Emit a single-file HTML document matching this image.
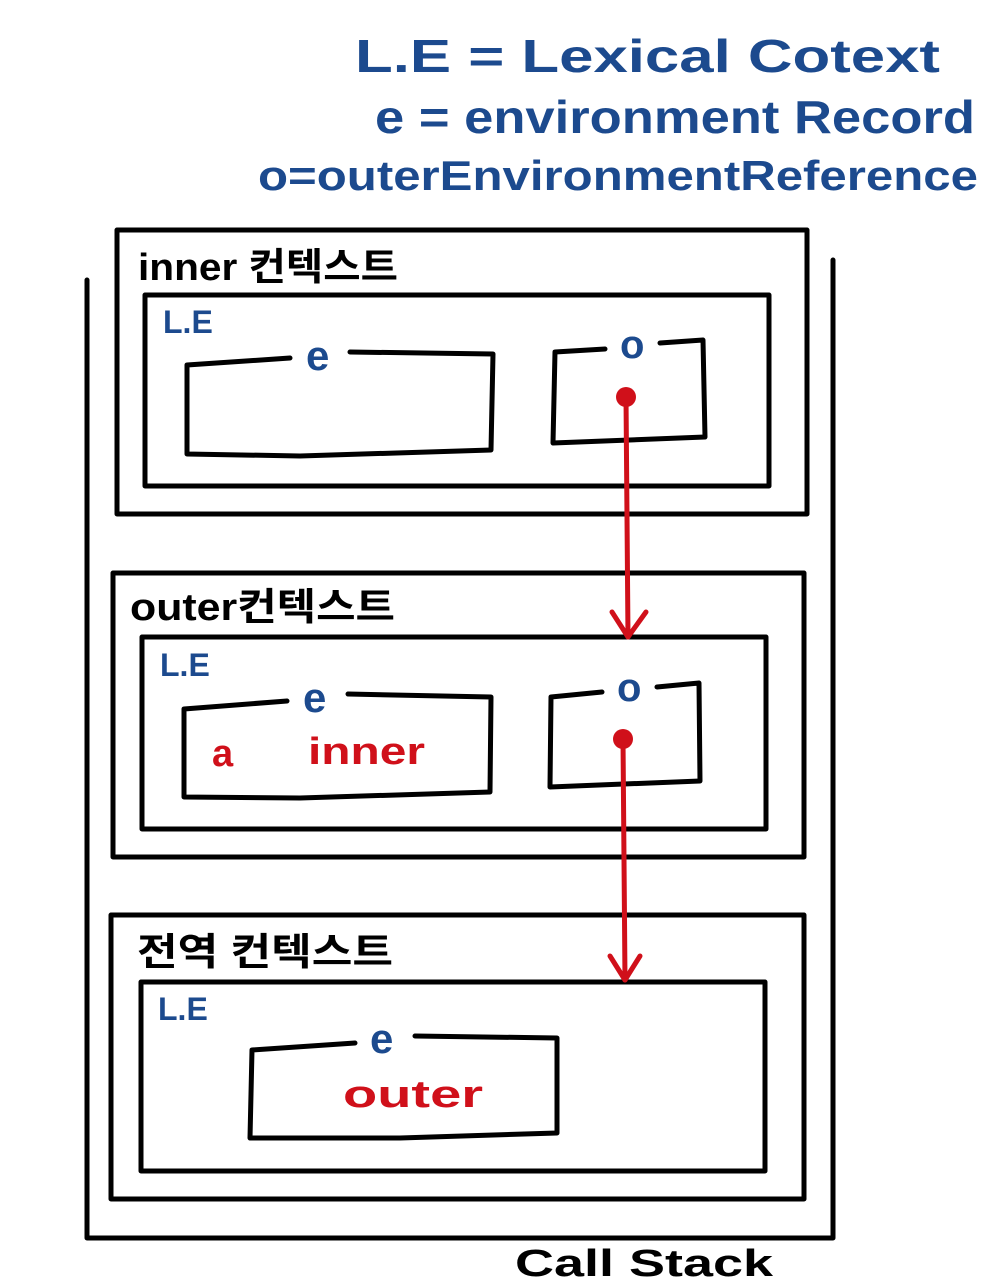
<!DOCTYPE html>
<html><head><meta charset="utf-8"><style>
html,body{margin:0;padding:0;background:#fff;}
svg{display:block;}
text{font-family:"Liberation Sans","Noto Sans CJK KR",sans-serif;font-weight:bold;}
.b{fill:#1c4a8e;}
.r{fill:#d0101a;}
.k{fill:#000;}
</style></head><body>
<svg width="1000" height="1284" viewBox="0 0 1000 1284" xmlns="http://www.w3.org/2000/svg">
<g fill="none" stroke="#000" stroke-width="5" stroke-linejoin="round" stroke-linecap="round">
<!-- call stack -->
<polyline points="87,280 87,1238 833,1238 833,260"/>
<!-- inner -->
<rect x="117" y="230" width="690" height="284"/>
<rect x="145" y="295" width="624" height="191"/>
<path d="M290,358 L187,365 L187,454 L300,456 L491,450 L493,354 L350,352"/>
<path d="M605,349 L555,352 L553,443 L705,437 L703,340 L660,343"/>
<!-- outer -->
<rect x="113" y="573" width="691" height="284"/>
<rect x="142" y="637" width="624" height="192"/>
<path d="M287,701 L184,709 L184,797 L300,798 L490,792 L491,697 L348,694"/>
<path d="M602,692 L551,697 L550,787 L700,781 L699,683 L657,687"/>
<!-- global -->
<rect x="111" y="915" width="693" height="284"/>
<rect x="141" y="982" width="624" height="189"/>
<path d="M355,1043 L252,1050 L250,1138 L400,1138 L557,1133 L557,1038 L415,1036"/>
</g>
<!-- red arrows -->
<g stroke="#d0101a" stroke-width="5" fill="none" stroke-linecap="round" stroke-linejoin="round">
<path d="M626,397 L628,637"/>
<path d="M612,612 L628,637 L646,612"/>
<path d="M623,739 L625,980"/>
<path d="M610,956 L625,980 L640,956"/>
</g>
<circle cx="626" cy="397" r="10" fill="#d0101a"/>
<circle cx="623" cy="739" r="10" fill="#d0101a"/>
<!-- header -->
<text class="b" x="355" y="72" font-size="46" textLength="585" lengthAdjust="spacingAndGlyphs">L.E = Lexical Cotext</text>
<text class="b" x="375" y="133" font-size="46" textLength="600" lengthAdjust="spacingAndGlyphs">e = environment Record</text>
<text class="b" x="258" y="190" font-size="42" textLength="720" lengthAdjust="spacingAndGlyphs">o=outerEnvironmentReference</text>
<!-- labels -->
<text class="k" x="138" y="280" font-size="38" textLength="260" lengthAdjust="spacingAndGlyphs">inner 컨텍스트</text>
<text class="b" x="163" y="333" font-size="32">L.E</text>
<text class="b" x="306" y="370" font-size="42">e</text>
<text class="b" x="620" y="358" font-size="40">o</text>
<text class="k" x="130" y="620" font-size="38" textLength="265" lengthAdjust="spacingAndGlyphs">outer컨텍스트</text>
<text class="b" x="160" y="676" font-size="32">L.E</text>
<text class="b" x="303" y="712" font-size="42">e</text>
<text class="b" x="617" y="701" font-size="40">o</text>
<text class="r" x="212" y="766" font-size="38">a</text>
<text class="r" x="308" y="764" font-size="38" textLength="117" lengthAdjust="spacingAndGlyphs">inner</text>
<text class="k" x="137" y="965" font-size="38" textLength="256" lengthAdjust="spacingAndGlyphs">전역 컨텍스트</text>
<text class="b" x="158" y="1020" font-size="32">L.E</text>
<text class="b" x="370" y="1053" font-size="42">e</text>
<text class="r" x="343" y="1107" font-size="38" textLength="140" lengthAdjust="spacingAndGlyphs">outer</text>
<text class="k" x="515" y="1276" font-size="38" textLength="258" lengthAdjust="spacingAndGlyphs">Call Stack</text>
</svg>
</body></html>
